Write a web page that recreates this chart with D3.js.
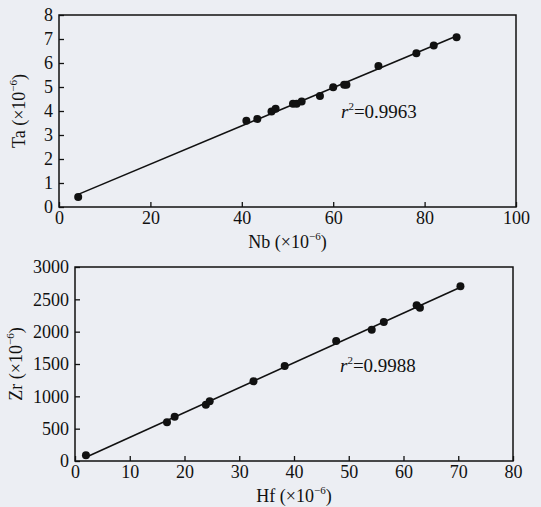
<!DOCTYPE html>
<html lang="en">
<head>
    <meta charset="UTF-8">
    <title>Nb-Ta and Hf-Zr</title>
    <script src="https://d3js.org/d3.v7.min.js"></script>
    <style>
        body { margin: 0; background: #eceef3; }
        text { font-family: "Liberation Serif", "Times New Roman", serif; fill: #111; }
    </style>
</head>
<body>
    <script>
        // Panel 1: Nb vs Ta (x10^-6)
        const nb = [4.2, 41.0, 43.4, 46.5, 47.4, 51.2, 52.0, 53.1, 57.1, 60.0, 62.4, 62.9, 69.9, 78.2, 82.0, 87.0];
        const ta = [0.42, 3.59, 3.67, 3.98, 4.09, 4.30, 4.30, 4.40, 4.63, 4.99, 5.09, 5.09, 5.88, 6.41, 6.73, 7.07];
        const nbTicks = [0, 20, 40, 60, 80, 100];
        const taTicks = [0, 1, 2, 3, 4, 5, 6, 7, 8];

        // Panel 2: Hf vs Zr (x10^-6)
        const hf = [2.0, 16.8, 18.2, 23.9, 24.6, 32.6, 38.3, 47.7, 54.2, 56.4, 62.4, 63.0, 70.4];
        const zr = [88, 598, 686, 871, 923, 1232, 1469, 1856, 2031, 2149, 2407, 2371, 2701];
        const hfTicks = [0, 10, 20, 30, 40, 50, 60, 70, 80];
        const zrTicks = [0, 500, 1000, 1500, 2000, 2500, 3000];

        const svg = d3.select('body')
            .append('svg')
            .attr('width', 541)
            .attr('height', 507);

        function fit(xs, ys) {
            const mx = d3.mean(xs), my = d3.mean(ys);
            let sxy = 0, sxx = 0;
            xs.forEach((x, i) => { sxy += (x - mx) * (ys[i] - my); sxx += (x - mx) * (x - mx); });
            const b = sxy / sxx;
            return { a: my - b * mx, b: b };
        }

        function panel(o) {
            const g = svg.append('g').attr('transform', 'translate(' + o.left + ',' + o.top + ')');
            const x = d3.scaleLinear().domain(o.xDomain).range([0, o.w]);
            const y = d3.scaleLinear().domain(o.yDomain).range([o.h, 0]);

            g.append('g')
                .attr('transform', 'translate(0,' + o.h + ')')
                .call(d3.axisBottom(x).tickValues(o.xTicks).tickFormat(d3.format('d'))
                    .tickSizeInner(-5).tickSizeOuter(0).tickPadding(4))
                .call(a => a.select('.domain').remove())
                .call(a => a.selectAll('line').attr('stroke', '#111').attr('stroke-width', 1.3))
                .call(a => a.selectAll('text').style('font-size', '18px').attr('fill', '#111'));

            g.append('g')
                .call(d3.axisLeft(y).tickValues(o.yTicks).tickFormat(d3.format('d'))
                    .tickSizeInner(-5).tickSizeOuter(0).tickPadding(6))
                .call(a => a.select('.domain').remove())
                .call(a => a.selectAll('line').attr('stroke', '#111').attr('stroke-width', 1.3))
                .call(a => a.selectAll('text').style('font-size', '18px').attr('fill', '#111'));

            // frame
            g.append('rect')
                .attr('width', o.w).attr('height', o.h)
                .attr('fill', 'none').attr('stroke', '#111').attr('stroke-width', 1.5);

            // regression line
            const f = fit(o.xs, o.ys);
            const x0 = d3.min(o.xs), x1 = d3.max(o.xs);
            g.append('line')
                .attr('x1', x(x0)).attr('y1', y(f.a + f.b * x0))
                .attr('x2', x(x1)).attr('y2', y(f.a + f.b * x1))
                .attr('stroke', '#111').attr('stroke-width', 1.6);

            g.selectAll('circle')
                .data(o.xs.map((v, i) => [v, o.ys[i]]))
                .enter()
                .append('circle')
                .attr('cx', d => x(d[0]))
                .attr('cy', d => y(d[1]))
                .attr('r', 4)
                .attr('fill', '#111');

            // r^2 label
            const r = g.append('text')
                .attr('x', o.rx).attr('y', o.ry)
                .style('font-size', '19px');
            r.append('tspan').style('font-style', 'italic').text('r');
            r.append('tspan').attr('dy', -8).style('font-size', '11px').text('2');
            r.append('tspan').attr('dy', 8).text('=' + o.r2);

            // axis titles
            const xt = g.append('text')
                .attr('x', o.w / 2).attr('y', o.h + 41)
                .attr('text-anchor', 'middle')
                .style('font-size', '18px');
            xt.append('tspan').text(o.xLabel + ' (×10');
            xt.append('tspan').attr('dy', -8).style('font-size', '11px').text('−6');
            xt.append('tspan').attr('dy', 8).text(')');

            const yt = g.append('text')
                .attr('transform', 'translate(' + o.yTitleX + ',' + (o.h / 2) + ') rotate(-90)')
                .attr('text-anchor', 'middle')
                .style('font-size', '18px');
            yt.append('tspan').text(o.yLabel + ' (×10');
            yt.append('tspan').attr('dy', -8).style('font-size', '11px').text('−6');
            yt.append('tspan').attr('dy', 8).text(')');
        }

        panel({
            left: 59, top: 15, w: 457, h: 192,
            xDomain: [0, 100], yDomain: [0, 8],
            xTicks: nbTicks, yTicks: taTicks,
            xs: nb, ys: ta,
            rx: 282, ry: 103, r2: '0.9963',
            xLabel: 'Nb', yLabel: 'Ta', yTitleX: -34
        });

        panel({
            left: 75, top: 267, w: 438, h: 194,
            xDomain: [0, 80], yDomain: [0, 3000],
            xTicks: hfTicks, yTicks: zrTicks,
            xs: hf, ys: zr,
            rx: 265, ry: 105, r2: '0.9988',
            xLabel: 'Hf', yLabel: 'Zr', yTitleX: -53
        });
    </script>
</body>
</html>
